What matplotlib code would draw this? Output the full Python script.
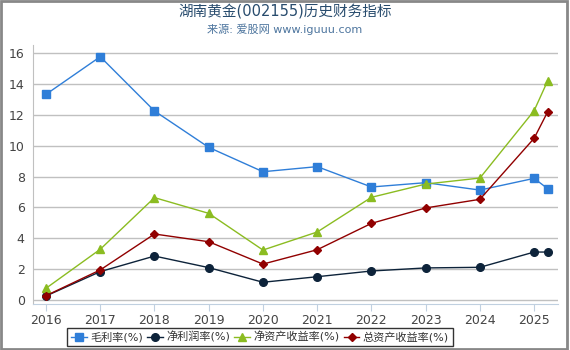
import matplotlib
matplotlib.use('Agg')
import matplotlib.pyplot as plt
from matplotlib.patches import Rectangle

plt.rcParams['font.family'] = ['DejaVu Sans', 'Noto Sans CJK SC']

# 数据（2025.25 为最新季度）
years = [2016, 2017, 2018, 2019, 2020, 2021, 2022, 2023, 2024, 2025, 2025.25]
gross_margin = [13.34, 15.78, 12.26, 9.90, 8.32, 8.65, 7.33, 7.61, 7.13, 7.89, 7.22]
net_margin = [0.26, 1.84, 2.85, 2.10, 1.15, 1.51, 1.88, 2.08, 2.12, 3.11, 3.11]
roe = [0.76, 3.29, 6.64, 5.62, 3.24, 4.41, 6.66, 7.52, 7.91, 12.28, 14.22]
roa = [0.28, 1.95, 4.28, 3.78, 2.33, 3.26, 4.97, 5.97, 6.53, 10.49, 12.21]
tick_years = list(range(2016, 2026))

series = [
    ('毛利率(%)', gross_margin, '#2f7ed8', 's', 5.5),
    ('净利润率(%)', net_margin, '#0d233a', 'o', 5.5),
    ('净资产收益率(%)', roe, '#8bbc21', '^', 6),
    ('总资产收益率(%)', roa, '#910000', 'D', 4),
]

fig = plt.figure(figsize=(5.7, 3.5), dpi=100)
ax = fig.add_axes([33 / 570, 1 - 304 / 350, (558 - 33) / 570, (304 - 45) / 350])

for name, vals, color, mk, ms in series:
    ax.plot(years, vals, color=color, marker=mk, markersize=ms, linewidth=1,
            label=name, markeredgecolor=color)

ax.set_xlim(2015.76, 2025.44)
ax.set_ylim(-0.26, 16.54)
ax.set_xticks(tick_years)
ax.set_yticks(range(0, 17, 2))
ax.grid(axis='y', color='#c0c0c0', linewidth=1)
ax.set_axisbelow(True)
for s in ['top', 'right']:
    ax.spines[s].set_visible(False)
ax.spines['left'].set_color('#c0c0c0')
ax.spines['bottom'].set_color('#c0d0e0')
ax.tick_params(axis='y', length=0, labelsize=9, colors='#444444', pad=6)
ax.tick_params(axis='x', length=5, color='#c0d0e0', labelsize=9, colors='#444444', pad=2)

fig.text(0.5, 1 - 12 / 350, '湖南黄金(002155)历史财务指标', ha='center', va='center',
         fontsize=10.5, color='#274b6d')
fig.text(0.5, 1 - 29 / 350, '来源: 爱股网 www.iguuu.com', ha='center', va='center',
         fontsize=8, color='#4d759e')

leg = fig.legend(loc='center', bbox_to_anchor=(260 / 570, 1 - 337 / 350), ncol=4,
                 fontsize=8, frameon=True, fancybox=False, handlelength=1.4,
                 handletextpad=0.3, columnspacing=0.4, borderpad=0.35, borderaxespad=0)
leg.get_frame().set_edgecolor('black')
leg.get_frame().set_linewidth(1)
for t in leg.get_texts():
    t.set_color('#333333')

# 外框
fig.patches.append(Rectangle((0.002, 0.004), 0.993, 0.994, transform=fig.transFigure,
                             fill=False, edgecolor='#888888', linewidth=2))

fig.savefig('out.png', dpi=100)
